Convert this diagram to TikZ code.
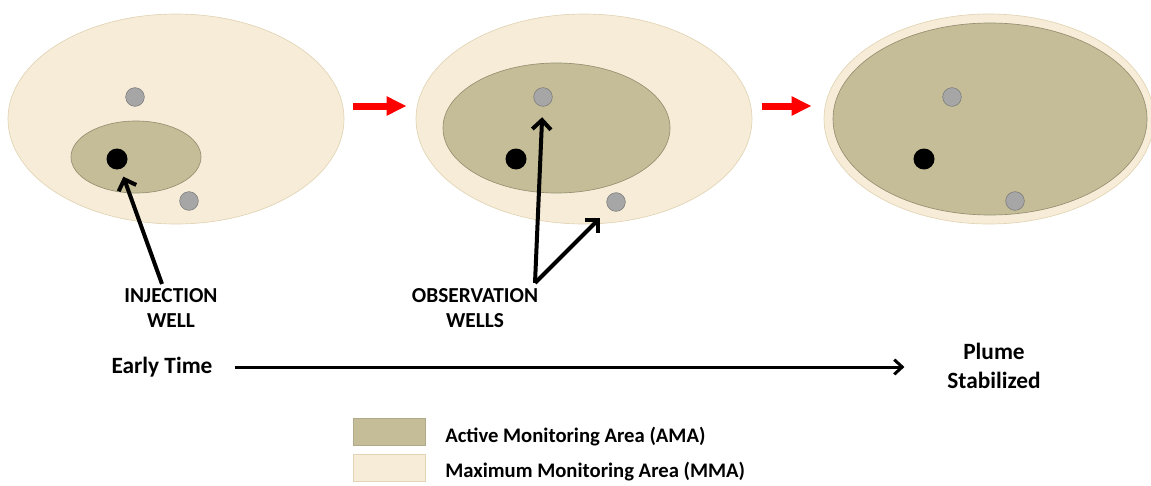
\documentclass[tikz,border=0pt]{standalone}
\usepackage{fontspec}
\setmainfont{Carlito}
\usetikzlibrary{arrows.meta,shapes.geometric}

\definecolor{mmafill}{RGB}{246,236,216}
\definecolor{mmaline}{RGB}{226,212,180}
\definecolor{amafill}{RGB}{196,189,151}
\definecolor{amaline}{RGB}{150,144,114}
\definecolor{wellgray}{RGB}{166,166,166}
\definecolor{welledge}{RGB}{120,120,120}

\begin{document}
\begin{tikzpicture}[x=0.75pt,y=-0.75pt,
    mma/.style={shape=ellipse,fill=mmafill,draw=mmaline,line width=0.5pt,inner sep=0pt},
    ama/.style={shape=ellipse,fill=amafill,draw=amaline,line width=0.5pt,inner sep=0pt},
    obswell/.style={shape=circle,fill=wellgray,draw=welledge,line width=0.4pt,minimum size=14pt,inner sep=0pt},
    injwell/.style={shape=circle,fill=black,minimum size=15.75pt,inner sep=0pt},
    label/.style={font=\bfseries\fontsize{16}{18.5}\selectfont,align=center,inner sep=0pt},
    timelabel/.style={font=\bfseries\fontsize{17.5}{21.5}\selectfont,align=center,inner sep=0pt},
    legtext/.style={font=\bfseries\fontsize{15.5}{17}\selectfont,anchor=west,inner sep=0pt},
    swatch/.style={shape=rectangle,minimum width=54pt,minimum height=20pt,inner sep=0pt,line width=0.4pt},
    stepred/.style={draw=red,line width=5.25pt,-{Triangle[length=15pt,width=13.5pt]}},
    ptr/.style={draw=black,line width=3pt,-{Straight Barb[length=7pt,width=14pt]}},
    timeline/.style={draw=black,line width=2.25pt,-{Straight Barb[length=6pt,width=11pt]}}]
    \useasboundingbox (0,0) rectangle (1151,485);

    % early time
    \node[mma,minimum width=252pt,minimum height=157.5pt] (mma1) at (176,119) {};
    \node[ama,minimum width=97.5pt,minimum height=54pt] (ama1) at (136,157) {};
    \node[obswell] (o1a) at (135,97) {};
    \node[obswell] (o1b) at (189,201) {};
    \node[injwell] (i1) at (117,159) {};

    % plume growing
    \node[mma,minimum width=252pt,minimum height=157.5pt] (mma2) at (584,119) {};
    \node[ama,minimum width=170.25pt,minimum height=97.5pt] (ama2) at (556.5,128) {};
    \node[obswell] (o2a) at (543,97) {};
    \node[obswell] (o2b) at (616,202) {};
    \node[injwell] (i2) at (516,159) {};

    % plume stabilized
    \node[mma,minimum width=247.5pt,minimum height=157.5pt] (mma3) at (989,119) {};
    \node[ama,minimum width=235.5pt,minimum height=144pt] (ama3) at (990,119) {};
    \node[obswell] (o3a) at (952,97) {};
    \node[obswell] (o3b) at (1015,201) {};
    \node[injwell] (i3) at (924,159) {};

    % red step arrows, kept level
    \coordinate (steprow) at (0,106);
    \draw[stepred,shorten <=6.75pt,shorten >=6.75pt] (mma1.east |- steprow) -- (mma2.west |- steprow);
    \draw[stepred,shorten <=7.5pt,shorten >=9pt] (mma2.east |- steprow) -- (mma3.west |- steprow);

    % labels and pointers
    \node[label] (inj) at (171,308) {INJECTION\\WELL};
    \node[label] (obs) at (475,308) {OBSERVATION\\WELLS};
    \coordinate (injtail) at (162,284);
    \coordinate (obstail) at (535,283);
    \draw[ptr,shorten >=6pt] (injtail) -- (i1);
    \draw[ptr,shorten >=8pt] (obstail) -- (o2a);
    \draw[ptr,shorten >=10pt] (obstail) -- (o2b);

    % time axis
    \node[timelabel] (early) at (162,367) {Early Time};
    \node[timelabel] (plume) at (994,366) {Plume\\Stabilized};
    \draw[timeline,shorten <=17pt,shorten >=32pt] (early.east) -- (plume.west |- early.east);

    % legend
    \node[swatch,fill=amafill,draw=amafill!90!black] (legama) at (389,431.5) {};
    \node[swatch,fill=mmafill,draw=mmaline] (legmma) at (389,467.5) {};
    \node[legtext] (txtama) at (445,437) {Active Monitoring Area (AMA)};
    \node[legtext] (txtmma) at (445,472) {Maximum Monitoring Area (MMA)};
\end{tikzpicture}
\end{document}
